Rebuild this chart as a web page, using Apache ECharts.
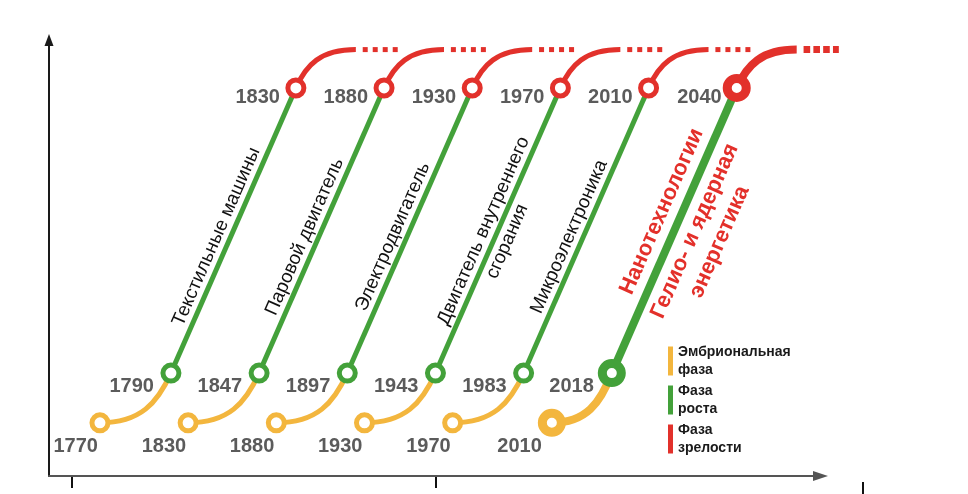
<!DOCTYPE html>
<html><head><meta charset="utf-8">
<script src="https://cdn.jsdelivr.net/npm/echarts@6/dist/echarts.min.js"></script>
<style>html,body{margin:0;padding:0;background:#fff}#c{width:968px;height:494px}</style>
</head><body><div id="c"></div>
<script>
// ---- data ----
const technologies = ['Текстильные машины','Паровой двигатель','Электродвигатель','Двигатель внутреннего\nсгорания','Микроэлектроника','Нанотехнологии'];
const technologiesSecond = ['', '', '', '', '', 'Гелио- и ядерная\nэнергетика'];
const embryoYears = [1770, 1830, 1880, 1930, 1970, 2010];
const growthYears = [1790, 1847, 1897, 1943, 1983, 2018];
const maturityYears = [1830, 1880, 1930, 1970, 2010, 2040];
const phaseNames = ['Эмбриональная фаза', 'Фаза роста', 'Фаза зрелости'];

// ---- styles / layout ----
const COLORS = ['#f3b63e', '#43a13a', '#e2312b'];
const HL = 5; // highlighted (future) technology
const OFF = {emb: 0.578, embHL: 0.703, gro: 1.383, mat: 2.8, solid: 0.68, dotStart: 0.758, dotEnd: 1.158};
const LV = {emb: 12.2, gro: 23.6, mat: 89, plat: 97.8};
const FONT = 'Liberation Sans, Arial, sans-serif';

const idx = technologies.map((_, i) => i);
const ex = i => i + (i === HL ? OFF.embHL : OFF.emb);
const gx = i => i + OFF.gro;
const mx = i => i + OFF.mat;

const chart = echarts.init(document.getElementById('c'));

function embryoRender(params, api) {
  const big = api.value(4) === HL;
  const p0 = api.coord([api.value(0), api.value(1)]);
  const p3 = api.coord([api.value(2), api.value(3)]);
  const dx = p3[0] - p0[0], dy = p3[1] - p0[1];
  return {
    type: 'bezierCurve',
    shape: {x1: p0[0], y1: p0[1], x2: p3[0], y2: p3[1],
      cpx1: p0[0] + 0.57 * dx, cpy1: p0[1], cpx2: p3[0] - 0.19 * dx, cpy2: p3[1] - 0.6 * dy},
    style: {stroke: COLORS[0], lineWidth: big ? 8 : 5, fill: 'none'}
  };
}

function growthRender(params, api) {
  const i = api.value(4);
  const big = i === HL;
  const p1 = api.coord([api.value(0), api.value(1)]);
  const p2 = api.coord([api.value(2), api.value(3)]);
  const dx = p2[0] - p1[0], dy = p2[1] - p1[1];
  const len = Math.hypot(dx, dy);
  const nx = -dy / len, ny = dx / len;
  const rot = Math.atan2(-dy, dx);
  const lab = (text, t, off, st) => ({
    type: 'text', x: p1[0] + dx * t + nx * off, y: p1[1] + dy * t + ny * off, rotation: rot,
    style: Object.assign({text: text, align: 'center', verticalAlign: 'middle', fontFamily: FONT}, st)
  });
  const children = [{type: 'line', shape: {x1: p1[0], y1: p1[1], x2: p2[0], y2: p2[1]},
    style: {stroke: COLORS[1], lineWidth: big ? 8 : 5}}];
  const name = technologies[i];
  if (big) {
    children.push(lab(name, 0.54, -19, {fill: '#e3302a', fontSize: 22, fontWeight: 'bold'}));
    children.push(lab(technologiesSecond[i], 0.525, 32.5, {fill: '#e3302a', fontSize: 22, fontWeight: 'bold', lineHeight: 27}));
  } else {
    const multi = name.indexOf('\n') >= 0;
    children.push(lab(name, multi ? 0.48 : 0.46, multi ? 0 : -13, {fill: '#111', fontSize: 19, lineHeight: 26}));
  }
  return {type: 'group', children: children};
}

function matureRender(params, api) {
  const big = api.value(6) === HL;
  const p0 = api.coord([api.value(0), api.value(1)]);
  const p3 = api.coord([api.value(2), api.value(3)]);
  const d0 = api.coord([api.value(4), api.value(3)]);
  const d1 = api.coord([api.value(5), api.value(3)]);
  const dx = p3[0] - p0[0], dy = p3[1] - p0[1];
  return {
    type: 'group',
    children: [
      {type: 'bezierCurve',
        shape: {x1: p0[0], y1: p0[1], x2: p3[0], y2: p3[1],
          cpx1: p0[0] + 0.17 * dx, cpy1: p0[1] + 0.6 * dy, cpx2: p3[0] - 0.59 * dx, cpy2: p3[1]},
        style: {stroke: COLORS[2], lineWidth: big ? 8 : 5, fill: 'none'}},
      {type: 'line', shape: {x1: d0[0], y1: d0[1], x2: d1[0], y2: d1[1]},
        style: {stroke: COLORS[2], lineWidth: big ? 7 : 5, lineDash: big ? [6.6, 3.2] : [5, 5], lineCap: 'butt'}}
    ]
  };
}

const yearLabel = {
  show: true, position: 'inside', align: 'right', verticalAlign: 'middle',
  fontSize: 20, fontWeight: 'bold', color: '#5b5b5b', fontFamily: FONT
};

function circles(phase, xs, y, years, offN, offB) {
  return {
    type: 'scatter', name: phaseNames[phase], z: 5, silent: true,
    emphasis: {disabled: true},
    itemStyle: {color: '#fff', borderColor: COLORS[phase], opacity: 1},
    label: Object.assign({formatter: p => String(years[p.value[2]])}, yearLabel),
    data: idx.map(i => ({
      value: [xs(i), y, i],
      symbolSize: i === HL ? 19 : 16,
      itemStyle: {borderWidth: i === HL ? 9 : 5},
      label: {offset: i === HL ? offB : offN}
    }))
  };
}

chart.setOption({
  animation: false,
  backgroundColor: '#fff',
  grid: {left: 49, right: 147.5, top: 40, bottom: 18},
  xAxis: {
    type: 'value', min: 0, max: 8.75,
    axisLine: {show: true, symbol: ['none', 'triangle'], symbolSize: [10, 15], lineStyle: {color: '#555', width: 2}},
    axisTick: {show: false}, axisLabel: {show: false}, splitLine: {show: false}
  },
  yAxis: {
    type: 'value', min: 0, max: 100,
    axisLine: {show: true, symbol: ['none', 'triangle'], symbolSize: [9, 12], lineStyle: {color: '#1a1a1a', width: 2}},
    axisTick: {show: false}, axisLabel: {show: false}, splitLine: {show: false}
  },
  legend: {
    orient: 'vertical', left: 668, top: 343, padding: 0, icon: 'rect', itemWidth: 5, itemHeight: 29, itemGap: 3,
    selectedMode: false,
    formatter: n => n.replace(' ', '\n'),
    textStyle: {fontSize: 14, fontWeight: 'bold', lineHeight: 18, color: '#1a1a1a', fontFamily: FONT},
    data: phaseNames.map((n, k) => ({name: n, itemStyle: {color: COLORS[k], borderWidth: 0}}))
  },
  graphic: [
    {type: 'line', shape: {x1: 72, y1: 477, x2: 72, y2: 488}, style: {stroke: '#111', lineWidth: 2}},
    {type: 'line', shape: {x1: 436, y1: 477, x2: 436, y2: 488}, style: {stroke: '#111', lineWidth: 2}},
    {type: 'line', shape: {x1: 863, y1: 482, x2: 863, y2: 494}, style: {stroke: '#111', lineWidth: 2}}
  ],
  series: [
    {type: 'custom', name: phaseNames[0], z: 2, silent: true, itemStyle: {color: COLORS[0]},
      renderItem: embryoRender, encode: {x: [0, 2], y: [1, 3]},
      data: idx.map(i => [ex(i), LV.emb, gx(i), LV.gro, i])},
    {type: 'custom', name: phaseNames[1], z: 2, silent: true, itemStyle: {color: COLORS[1]},
      renderItem: growthRender, encode: {x: [0, 2], y: [1, 3]},
      data: idx.map(i => [gx(i), LV.gro, mx(i), LV.mat, i])},
    {type: 'custom', name: phaseNames[2], z: 2, silent: true, itemStyle: {color: COLORS[2]},
      renderItem: matureRender, encode: {x: [0, 2], y: [1, 3]},
      data: idx.map(i => [mx(i), LV.mat, mx(i) + OFF.solid, LV.plat, mx(i) + OFF.dotStart, mx(i) + OFF.dotEnd, i])},
    circles(0, ex, LV.emb, embryoYears, [-2, 24], [-10, 24]),
    circles(1, gx, LV.gro, growthYears, [-17, 13], [-18, 13]),
    circles(2, mx, LV.mat, maturityYears, [-16, 10], [-15, 10])
  ]
});
</script>
</body></html>
